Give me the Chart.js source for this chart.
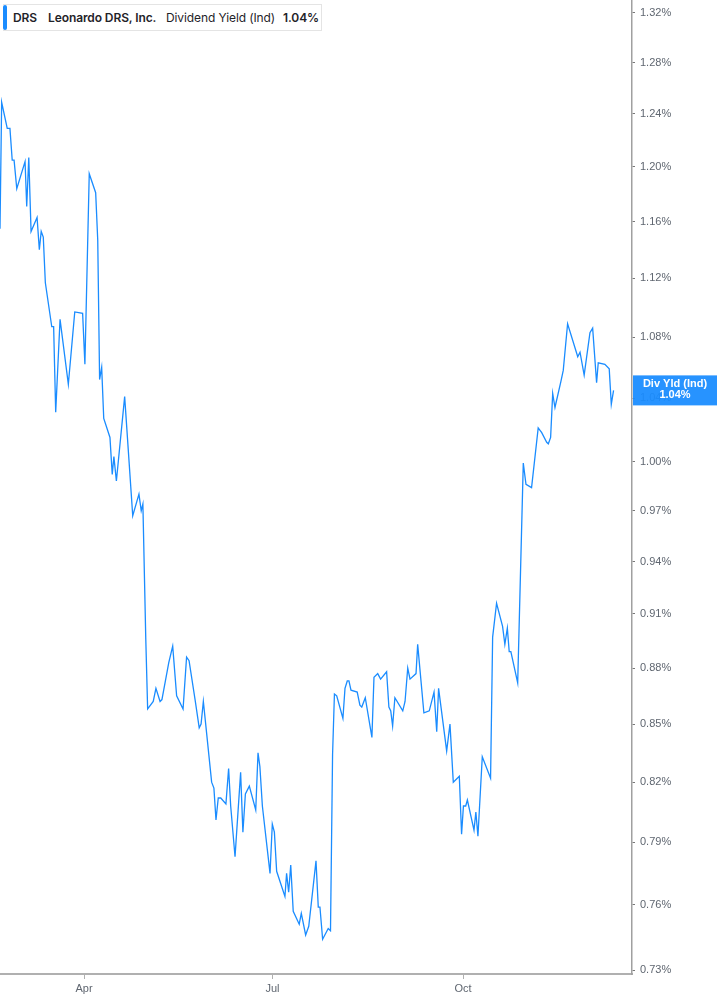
<!DOCTYPE html>
<html>
<head>
<meta charset="utf-8">
<title>DRS Dividend Yield</title>
<script src="https://cdn.jsdelivr.net/npm/chart.js@4.4.1/dist/chart.umd.min.js"></script>
<style>
    html, body {
        margin: 0;
        padding: 0;
        background: #ffffff;
    }
    #wrap {
        position: relative;
        width: 717px;
        height: 1005px;
    }
    #yieldChart {
        display: block;
    }
    #legend {
        position: absolute;
        left: 3px;
        top: 4px;
        width: 318px;
        height: 25px;
        background: #ffffff;
        border: 1px solid #e4e4e4;
        border-left: none;
        font-family: Inter, "Noto Sans", sans-serif;
        font-size: 12px;
        letter-spacing: -0.1px;
        color: #1f2329;
    }
    #legend .bar {
        position: absolute;
        left: 0;
        top: 0;
        width: 4px;
        height: 25px;
        background: #1a8cff;
        border-radius: 2px;
    }
    #legend span {
        position: absolute;
        top: 5px;
        white-space: nowrap;
    }
    #legend .b {
        font-weight: 600;
    }
</style>
</head>
<body>
<div id="wrap">
    <canvas id="yieldChart" width="717" height="1005"></canvas>
    <div id="legend">
        <div class="bar"></div>
        <span class="b" style="left:10px">DRS</span>
        <span class="b" style="left:45px">Leonardo DRS, Inc.</span>
        <span style="left:163px">Dividend Yield (Ind)</span>
        <span class="b" style="left:280px">1.04%</span>
    </div>
</div>
<script>
// day of year (2025) for each close
const days = [
    50.4, 51.2, 53.9, 55.2, 56.3, 57.2, 58.5, 62.5, 63.3, 64.3,
    65.4, 68.3, 69.4, 70.3, 71.3, 72.3, 75.4, 76.3, 77.3, 79.4,
    83.4, 86.5, 90.3, 91.4, 93.5, 96.6, 97.6, 98.5, 99.5, 100.5,
    103.5, 104.6, 105.4, 106.6, 110.6, 114.5, 117.5, 118.6, 119.4, 120.8,
    121.7, 124.4, 125.7, 127.7, 128.6, 131.9, 133.8, 135.7, 138.8, 140.5,
    141.7, 144.6, 146.6, 147.5, 148.6, 150.2, 152.6, 153.7, 154.7, 155.8,
    157.0, 159.5, 160.8, 161.8, 163.9, 166.6, 167.7, 168.9, 170.8, 173.9,
    175.0, 175.9, 177.1, 180.8, 181.9, 182.9, 184.0, 188.0, 188.8, 189.8,
    190.8, 192.0, 194.9, 195.9, 198.0, 199.5, 203.0, 204.1, 204.9, 206.2,
    208.9, 210.0, 211.0, 211.9, 213.0, 216.0, 217.0, 218.1, 218.9, 219.9,
    222.9, 224.2, 225.1, 226.8, 230.0, 231.0, 232.8, 234.2, 237.1, 238.2,
    239.1, 240.0, 241.1, 244.9, 246.0, 247.3, 248.4, 251.3, 252.1, 255.1,
    257.7, 260.0, 261.3, 262.2, 266.1, 267.7, 269.3, 272.2, 273.3, 274.2,
    275.3, 276.1, 279.3, 280.2, 281.2, 283.3, 287.3, 288.3, 290.2, 293.1,
    294.2, 295.4, 296.3, 297.1, 300.4, 303.1, 304.4, 307.1, 310.3, 312.0,
    314.4, 315.2, 316.3, 317.3, 318.4, 321.3, 322.4, 324.5, 329.4, 330.5,
    332.5, 335.3, 336.6, 338.5, 339.3, 342.5, 344.6, 345.6, 346.7
];

// dividend yield (indicated), percent
const yields = [
    1.155, 1.249, 1.229, 1.229, 1.205, 1.205, 1.184, 1.204, 1.171, 1.207,
    1.153, 1.163, 1.140, 1.153, 1.149, 1.117, 1.087, 1.087, 1.031, 1.092,
    1.049, 1.097, 1.096, 1.062, 1.195, 1.181, 1.147, 1.052, 1.060, 1.027,
    1.015, 0.992, 1.003, 0.988, 1.041, 0.967, 0.980, 0.970, 0.974, 0.896,
    0.858, 0.862, 0.869, 0.862, 0.863, 0.883, 0.892, 0.865, 0.858, 0.886,
    0.884, 0.863, 0.848, 0.850, 0.862, 0.845, 0.820, 0.817, 0.801, 0.812,
    0.812, 0.809, 0.827, 0.808, 0.783, 0.825, 0.795, 0.814, 0.818, 0.806,
    0.835, 0.828, 0.808, 0.775, 0.799, 0.795, 0.776, 0.764, 0.775, 0.766,
    0.779, 0.757, 0.751, 0.756, 0.746, 0.750, 0.781, 0.759, 0.759, 0.744,
    0.749, 0.748, 0.834, 0.866, 0.865, 0.853, 0.869, 0.873, 0.873, 0.868,
    0.867, 0.860, 0.859, 0.864, 0.843, 0.875, 0.877, 0.874, 0.878, 0.859,
    0.857, 0.849, 0.864, 0.857, 0.862, 0.880, 0.874, 0.877, 0.893, 0.856,
    0.857, 0.867, 0.846, 0.869, 0.836, 0.850, 0.820, 0.823, 0.794, 0.808,
    0.808, 0.811, 0.796, 0.805, 0.793, 0.833, 0.822, 0.897, 0.916, 0.903,
    0.893, 0.902, 0.889, 0.889, 0.872, 0.999, 0.986, 0.984, 1.021, 1.018,
    1.012, 1.011, 1.015, 1.043, 1.034, 1.051, 1.058, 1.089, 1.067, 1.070,
    1.055, 1.083, 1.086, 1.050, 1.063, 1.062, 1.059, 1.036, 1.045
];

const monthLabels = ['Apr', 'Jul', 'Oct'];
const monthDays = [91, 182, 274];
const yieldTicks = [0.73, 0.76, 0.79, 0.82, 0.85, 0.88, 0.91, 0.94, 0.97, 1.00,
    1.04, 1.08, 1.12, 1.16, 1.20, 1.24, 1.28, 1.32];

const LINE_COLOR = '#1a8cff';
const AXIS_FONT = { family: '"Liberation Sans", Arial, sans-serif', size: 11 };

let yieldChart;

// blue value box on the right axis at the last close
const lastValueTag = {
    id: 'lastValueTag',
    afterDraw(chart) {
        const pts = chart.data.datasets[0].data;
        const last = pts[pts.length - 1];
        const y = chart.scales.y.getPixelForValue(last.y);
        const x0 = chart.chartArea.right + 1;
        const w = chart.width - x0;
        const ctx = chart.ctx;
        ctx.save();
        ctx.fillStyle = 'rgba(26, 140, 255, 0.94)';
        ctx.fillRect(x0, y - 15, w, 30);
        ctx.fillStyle = '#ffffff';
        ctx.textAlign = 'center';
        ctx.textBaseline = 'middle';
        ctx.font = 'bold 11px "Liberation Sans", Arial, sans-serif';
        ctx.fillText('Div Yld (Ind)', x0 + w / 2, y - 6);
        ctx.fillText(last.y.toFixed(2) + '%', x0 + w / 2, y + 5);
        ctx.restore();
    }
};

function createChart() {
    const ctx = document.getElementById('yieldChart').getContext('2d');
    const points = days.map((d, i) => ({ x: d, y: yields[i] }));

    yieldChart = new Chart(ctx, {
        type: 'line',
        data: {
            datasets: [{
                label: 'Dividend Yield (Ind)',
                data: points,
                borderColor: LINE_COLOR,
                borderWidth: 1.3,
                pointRadius: 0,
                tension: 0
            }]
        },
        options: {
            responsive: false,
            animation: false,
            layout: { padding: 0 },
            plugins: {
                legend: { display: false },
                tooltip: { enabled: false }
            },
            scales: {
                x: {
                    type: 'linear',
                    min: 50.4,
                    max: 355.6,
                    afterBuildTicks: scale => {
                        scale.ticks = monthDays.map(v => ({ value: v }));
                    },
                    afterFit: scale => {
                        scale.height = 31;
                        scale.paddingLeft = 0;
                        scale.paddingRight = 0;
                    },
                    ticks: {
                        autoSkip: false,
                        maxRotation: 0,
                        color: '#5f6670',
                        font: AXIS_FONT,
                        padding: 3,
                        callback: value => monthLabels[monthDays.indexOf(value)]
                    },
                    grid: {
                        drawOnChartArea: false,
                        tickLength: 5,
                        tickColor: '#b0b0b0'
                    },
                    border: { color: '#b0b0b0', width: 2 }
                },
                y: {
                    type: 'logarithmic',
                    position: 'right',
                    min: 0.7282,
                    max: 1.3306,
                    afterBuildTicks: scale => {
                        scale.ticks = yieldTicks.map(v => ({ value: v }));
                    },
                    afterFit: scale => {
                        scale.width = 85;
                        scale.paddingTop = 0;
                        scale.paddingBottom = 0;
                    },
                    ticks: {
                        autoSkip: false,
                        color: '#5f6670',
                        font: AXIS_FONT,
                        padding: 5,
                        callback: value => value.toFixed(2) + '%'
                    },
                    grid: {
                        drawOnChartArea: false,
                        tickLength: 3,
                        tickColor: '#777777'
                    },
                    border: { color: '#a0a0a0', width: 1.5 }
                }
            }
        },
        plugins: [lastValueTag]
    });
}

window.addEventListener('load', () => {
    createChart();
});
</script>
</body>
</html>
